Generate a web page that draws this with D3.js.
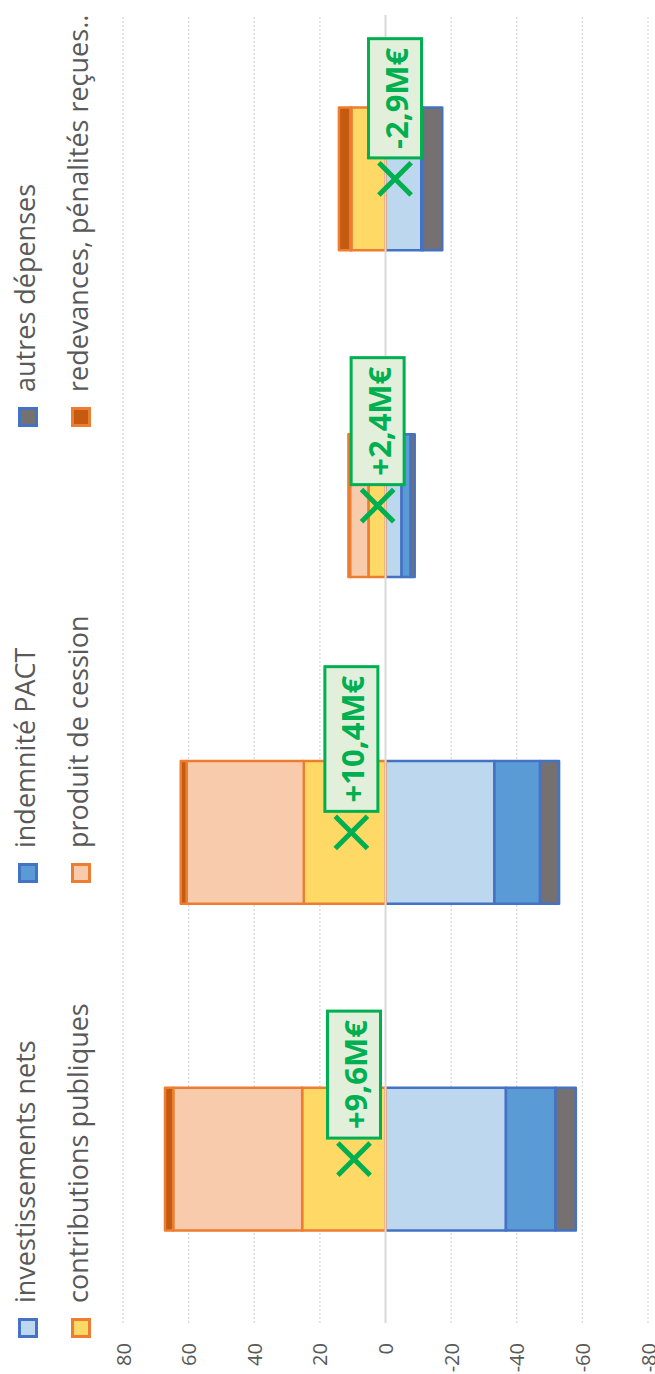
<!DOCTYPE html>
<html>
<head>
<meta charset="utf-8">
<script src="https://cdn.jsdelivr.net/npm/d3@7"></script>
<style>
  html, body { margin: 0; padding: 0; background: #ffffff; }
  svg { display: block; }
  text { font-family: "Open Sans", "DejaVu Sans", sans-serif; }
</style>
</head>
<body>
<div id="chart"></div>
<script>
// ---- data (values in M€) ----
const categories = ["Opération 1", "Opération 2", "Opération 3", "Opération 4"];
const contributionsPubliques = [25.4, 24.9, 5.2, 10.4];
const produitDeCession      = [39.3, 35.7, 5.6, 0.3];
const redevances            = [2.5, 1.8, 0.5, 3.5];
const investissementsNets   = [-36.7, -33.2, -4.9, -10.9];
const indemnitePACT         = [-15.1, -13.9, -2.8, -0.5];
const autresDepenses        = [-6.2, -5.8, -1.2, -5.9];
const netValues             = [9.6, 10.4, 2.4, -2.9];
const netLabels             = ["+9,6M€", "+10,4M€", "+2,4M€", "-2,9M€"];
const tickValues            = [80, 60, 40, 20, 0, -20, -40, -60, -80];

const seriesDefs = [
  { key: "inv",  name: "investissements nets",            values: investissementsNets,   fill: "#BDD7EE", stroke: "#4472C4" },
  { key: "pact", name: "indemnité PACT",                  values: indemnitePACT,         fill: "#5B9BD5", stroke: "#4472C4" },
  { key: "aut",  name: "autres dépenses",                 values: autresDepenses,        fill: "#767171", stroke: "#4472C4" },
  { key: "con",  name: "contributions publiques",         values: contributionsPubliques, fill: "#FFD966", stroke: "#ED7D31" },
  { key: "ces",  name: "produit de cession",              values: produitDeCession,      fill: "#F8CBAD", stroke: "#ED7D31" },
  { key: "red",  name: "redevances, pénalités reçues..",  values: redevances,            fill: "#C55A11", stroke: "#ED7D31" }
];

const W = 655, H = 1374;
const svg = d3.select("#chart").append("svg").attr("width", W).attr("height", H);
// Chart is drawn in a rotated frame (rotated -90°)
const g = svg.append("g").attr("transform", `translate(0,${H}) rotate(-90)`);

const x = d3.scaleBand().domain(categories).range([51, 1359]).paddingInner(0.5627).paddingOuter(0.283);
const y = d3.scaleLinear().domain([-80, 80]).range([648, 123]);

// gridlines
g.append("g").selectAll("line").data(tickValues.filter(v => v !== 0)).join("line")
  .attr("x1", 51).attr("x2", 1359)
  .attr("y1", d => y(d)).attr("y2", d => y(d))
  .attr("stroke", "#D9D9D9").attr("stroke-width", 1.3).attr("stroke-dasharray", "2,2");

// tick labels
g.append("g").selectAll("text").data(tickValues).join("text")
  .attr("x", 31).attr("y", d => y(d))
  .attr("text-anchor", "end").attr("dominant-baseline", "central")
  .attr("font-size", 20).attr("fill", "#595959")
  .text(d => d);

// stacked bars
const table = categories.map((c, i) => {
  const row = { cat: c };
  seriesDefs.forEach(s => row[s.key] = s.values[i]);
  return row;
});
const stack = d3.stack().keys(seriesDefs.map(s => s.key)).offset(d3.stackOffsetDiverging);
const stacked = stack(table);

const bars = g.append("g");
stacked.forEach((layer, li) => {
  const s = seriesDefs[li];
  bars.append("g").selectAll("rect").data(layer).join("rect")
    .attr("x", d => x(d.data.cat))
    .attr("width", x.bandwidth())
    .attr("y", d => y(Math.max(d[0], d[1])))
    .attr("height", d => Math.abs(y(d[0]) - y(d[1])))
    .attr("fill", s.fill)
    .attr("stroke", s.stroke)
    .attr("stroke-width", 2.5)
    .attr("stroke-linejoin", "round");
});

// zero line
g.append("line")
  .attr("x1", 51).attr("x2", 1359)
  .attr("y1", y(0)).attr("y2", y(0))
  .attr("stroke", "#D9D9D9").attr("stroke-width", 2);

// net markers (X)
const sym = d3.symbol().type(d3.symbolTimes).size(680);
g.append("g").selectAll("path").data(categories).join("path")
  .attr("transform", (c, i) => `translate(${x(c) + x.bandwidth() / 2},${y(netValues[i])})`)
  .attr("d", sym())
  .attr("fill", "none")
  .attr("stroke", "#00B050")
  .attr("stroke-width", 5);

// net labels
const lab = g.append("g").selectAll("g").data(categories).join("g");
lab.each(function (c, i) {
  const gg = d3.select(this);
  const cx = x(c) + x.bandwidth() / 2;
  const cy = y(netValues[i]);
  const rect = gg.append("rect");
  const t = gg.append("text")
    .attr("font-size", 31).attr("font-weight", "bold").attr("fill", "#00B050")
    .attr("dominant-baseline", "central")
    .text(netLabels[i]);
  const len = t.node().getComputedTextLength();
  const x0 = cx + 21;
  t.attr("x", x0 + 9).attr("y", cy + 1);
  rect.attr("x", x0).attr("y", cy - 26.5)
    .attr("width", len + 18).attr("height", 53)
    .attr("fill", "#E2EFDA").attr("stroke", "#00B050").attr("stroke-width", 3);
});

// legend
const legendPos = [
  { key: "inv",  gx: 36,  row: 0 },
  { key: "pact", gx: 491, row: 0 },
  { key: "aut",  gx: 947, row: 0 },
  { key: "con",  gx: 36,  row: 1 },
  { key: "ces",  gx: 491, row: 1 },
  { key: "red",  gx: 947, row: 1 }
];
const rowY = [18, 71];
const leg = g.append("g").selectAll("g").data(legendPos).join("g");
leg.append("rect")
  .attr("x", d => d.gx + 1.5).attr("y", d => rowY[d.row] + 1.5)
  .attr("width", 17).attr("height", 17)
  .attr("fill", d => seriesDefs.find(s => s.key === d.key).fill)
  .attr("stroke", d => seriesDefs.find(s => s.key === d.key).stroke)
  .attr("stroke-width", 3);
leg.append("text")
  .attr("x", d => d.gx + 35)
  .attr("y", d => rowY[d.row] + 17)
  .attr("font-size", 27).attr("fill", "#595959")
  .text(d => seriesDefs.find(s => s.key === d.key).name);
</script>
</body>
</html>
